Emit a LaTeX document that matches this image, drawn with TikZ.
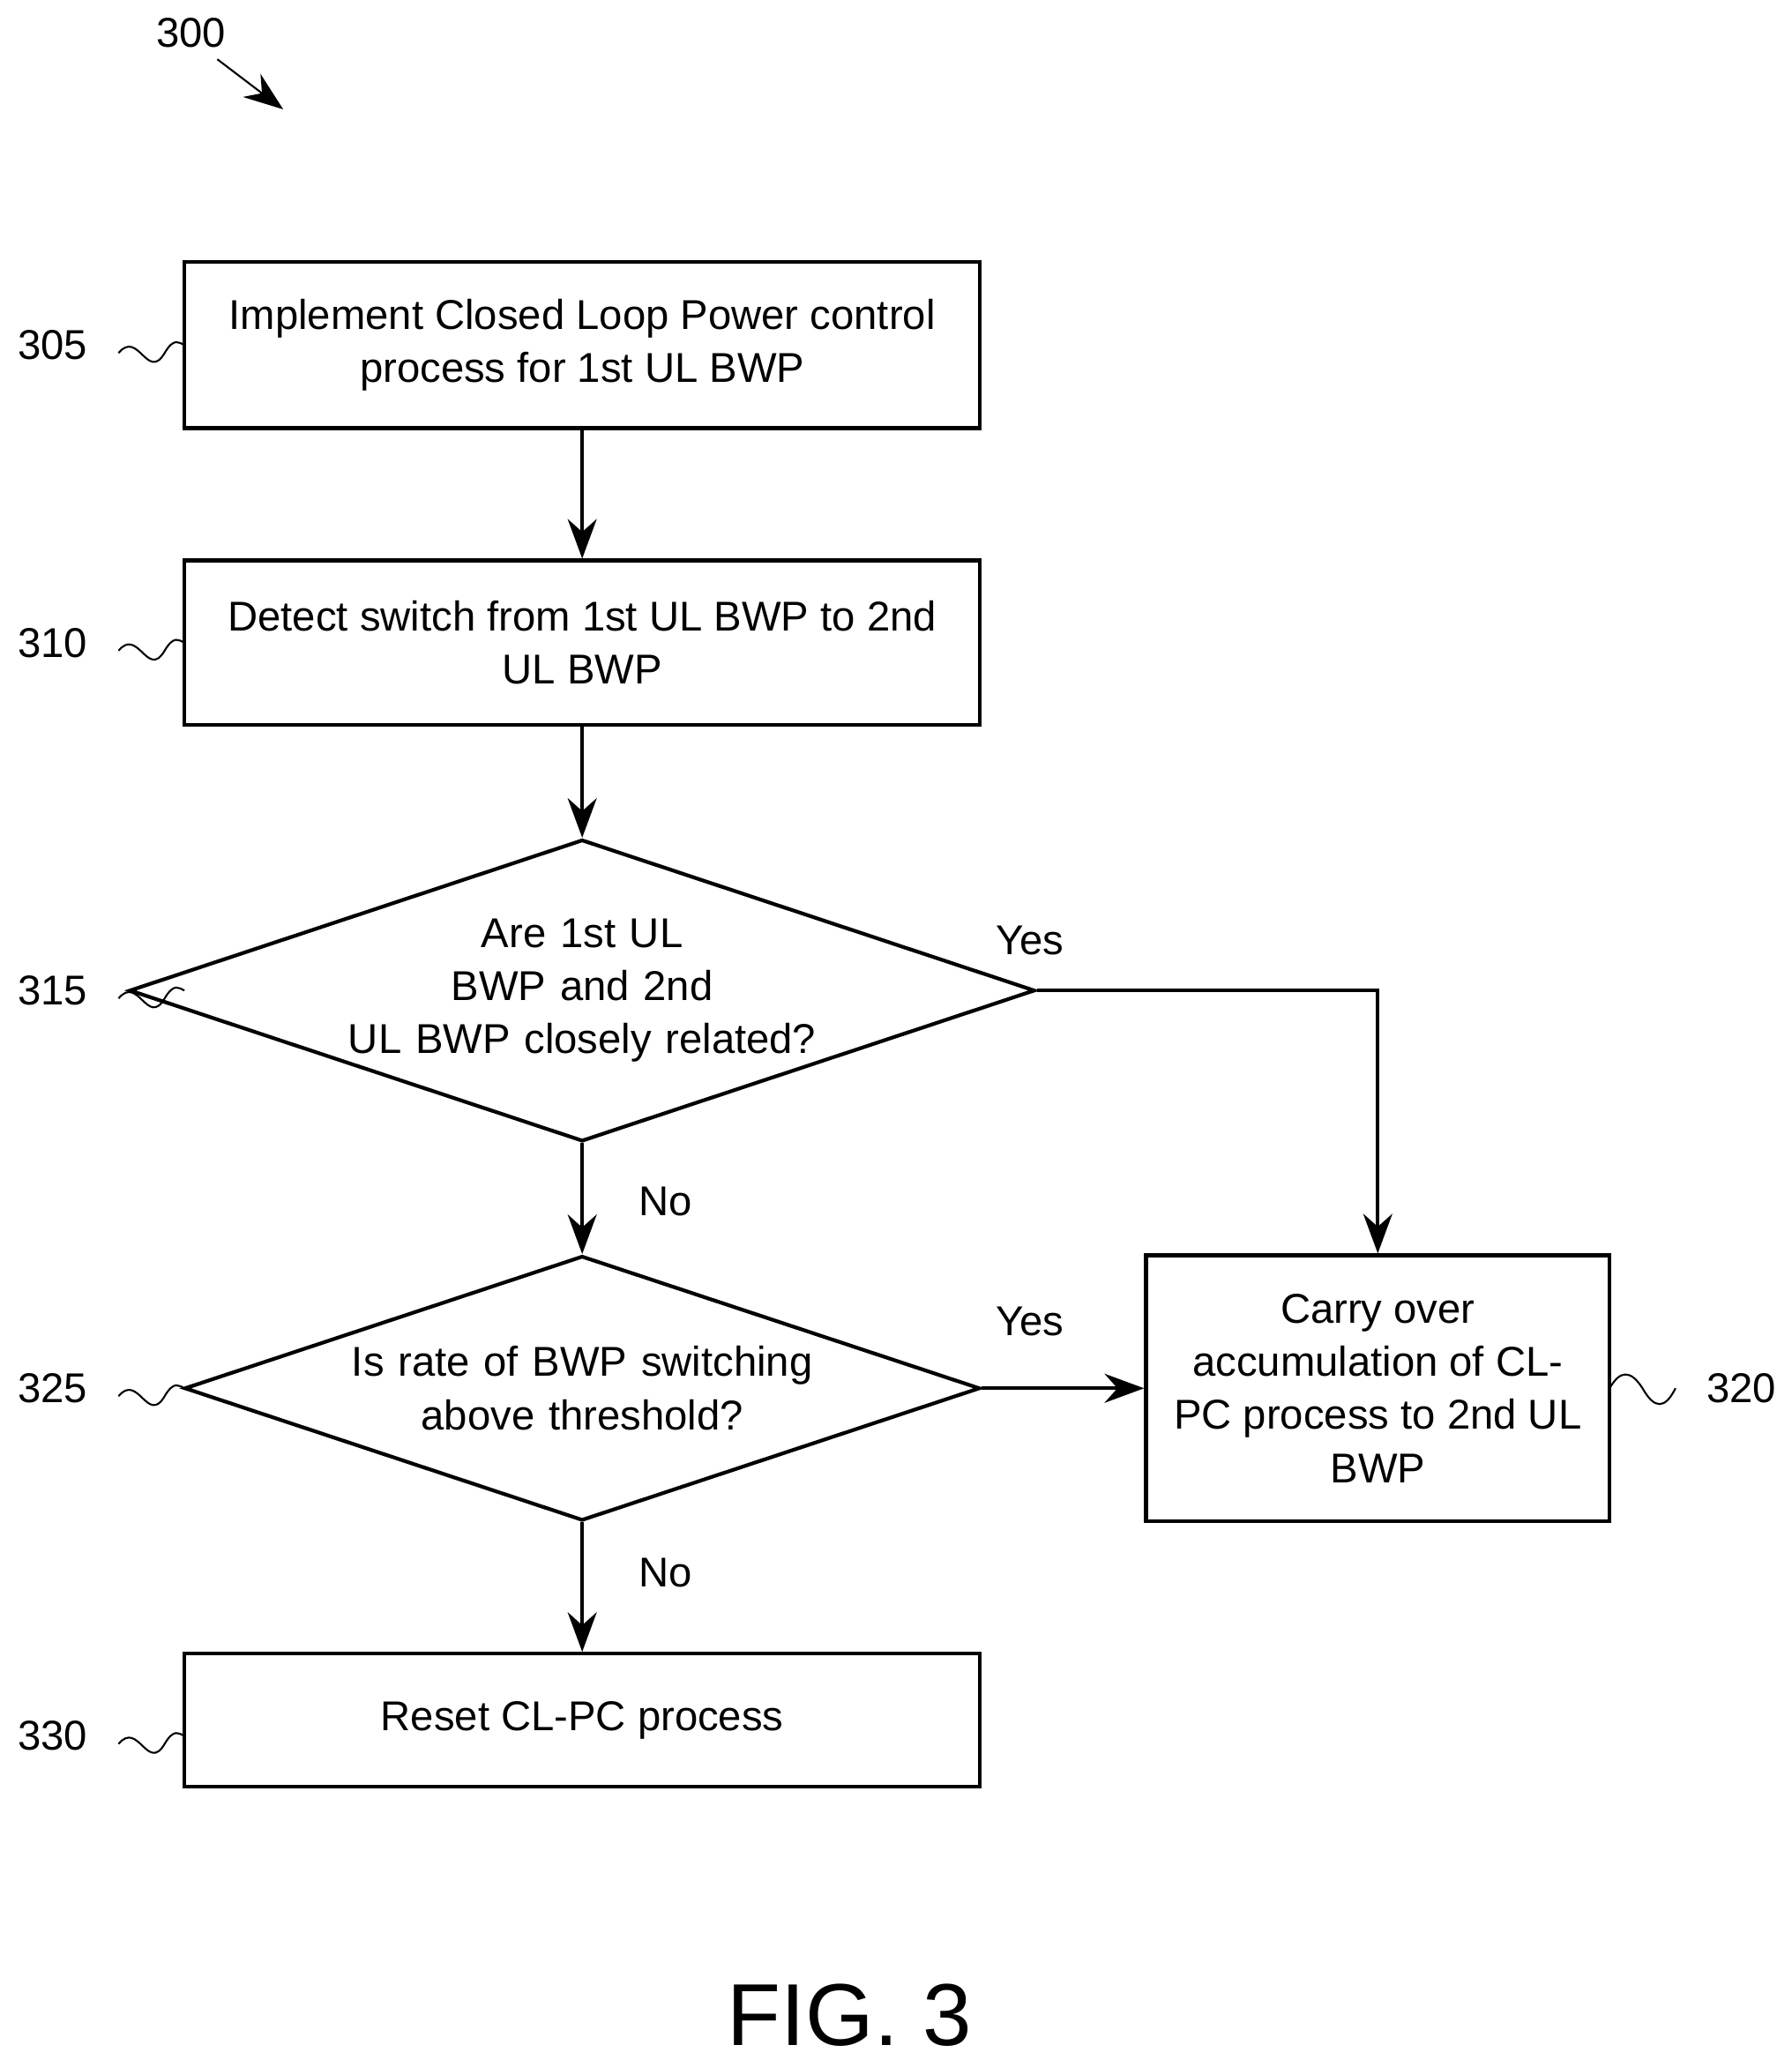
\documentclass[tikz,border=0pt]{standalone}
\usepackage{fontspec}
\setmainfont{Liberation Sans}
\usetikzlibrary{shapes.geometric,arrows.meta,positioning}

\tikzset{
  action/.style={draw, thick, minimum width=6.04cm, align=center, font=\fontsize{9}{11.5}\selectfont},
  test/.style={draw, thick, diamond, shape aspect=3, inner sep=0pt, text width=3.6cm,
    minimum width=6.04cm, minimum height=2.01cm, align=center, font=\fontsize{9}{11.5}\selectfont},
  flow/.style={thick, -{Stealth[length=3mm, width=2.2mm]}},
  tag/.style={font=\fontsize{9}{11}\selectfont},
  wave/.style={thin}
}

\begin{document}
\begin{tikzpicture}
\useasboundingbox (0,0) rectangle (13.6,-15.64);

% boxes
\node[action, minimum height=1.26cm] (s305) at (4.42,-2.62) {Implement Closed Loop Power control\\process for 1st UL BWP};
\node[action, minimum height=1.25cm] (s310) at (4.42,-4.88) {Detect switch from 1st UL BWP to 2nd\\UL BWP};
\node[test] (s315) at (4.42,-7.52) {Are 1st UL BWP and 2nd\\UL BWP closely related?};
\node[test] (s325) at (4.42,-10.54) {Is rate of BWP switching\\above threshold?};
\node[action, minimum width=3.52cm, minimum height=2.02cm] (s320) at (10.46,-10.54) {Carry over\\accumulation of CL-\\PC process to 2nd UL\\BWP};
\node[action, minimum height=1.01cm] (s330) at (4.42,-13.06) {Reset CL-PC process};

% connectors
\draw[flow] (s305) -- (s310);
\draw[flow] (s310) -- (s315);
\draw[flow] (s315.east) -| (s320.north);
\draw[flow] (s315) -- (s325);
\draw[flow] (s325.east) -- (s320.west);
\draw[flow] (s325) -- (s330);

\node[tag] at (7.82,-7.14) {Yes};
\node[tag] at (7.82,-10.03) {Yes};
\node[tag] at (5.05,-9.12) {No};
\node[tag] at (5.05,-11.94) {No};

% reference numerals
\foreach \n/\y in {305/-2.62, 310/-4.88, 315/-7.52, 325/-10.54, 330/-13.18}
{
  \node[tag] (l\n) at (0.40,\y) {\n};
  \draw[wave] (0.90,\y-0.06) .. controls (1.05,\y+0.12) and (1.12,\y-0.28) .. (1.25,\y-0.06)
    .. controls (1.32,\y+0.06) and (1.36,\y+0.02) .. (1.40,\y);
}
\node[tag] (l320) at (13.22,-10.54) {320};
\draw[wave] (12.22,-10.54) .. controls (12.30,-10.40) and (12.38,-10.40) .. (12.47,-10.54)
  .. controls (12.56,-10.70) and (12.64,-10.70) .. (12.72,-10.54);

\node[tag] (l300) at (1.45,-0.25) {300};
\coordinate (p300) at (2.15,-0.83);
\draw[flow, thin] (1.65,-0.45) -- (p300);

\node[font=\fontsize{19}{22}\selectfont] (fig) at (6.45,-15.30) {FIG. 3};
\end{tikzpicture}
\end{document}
